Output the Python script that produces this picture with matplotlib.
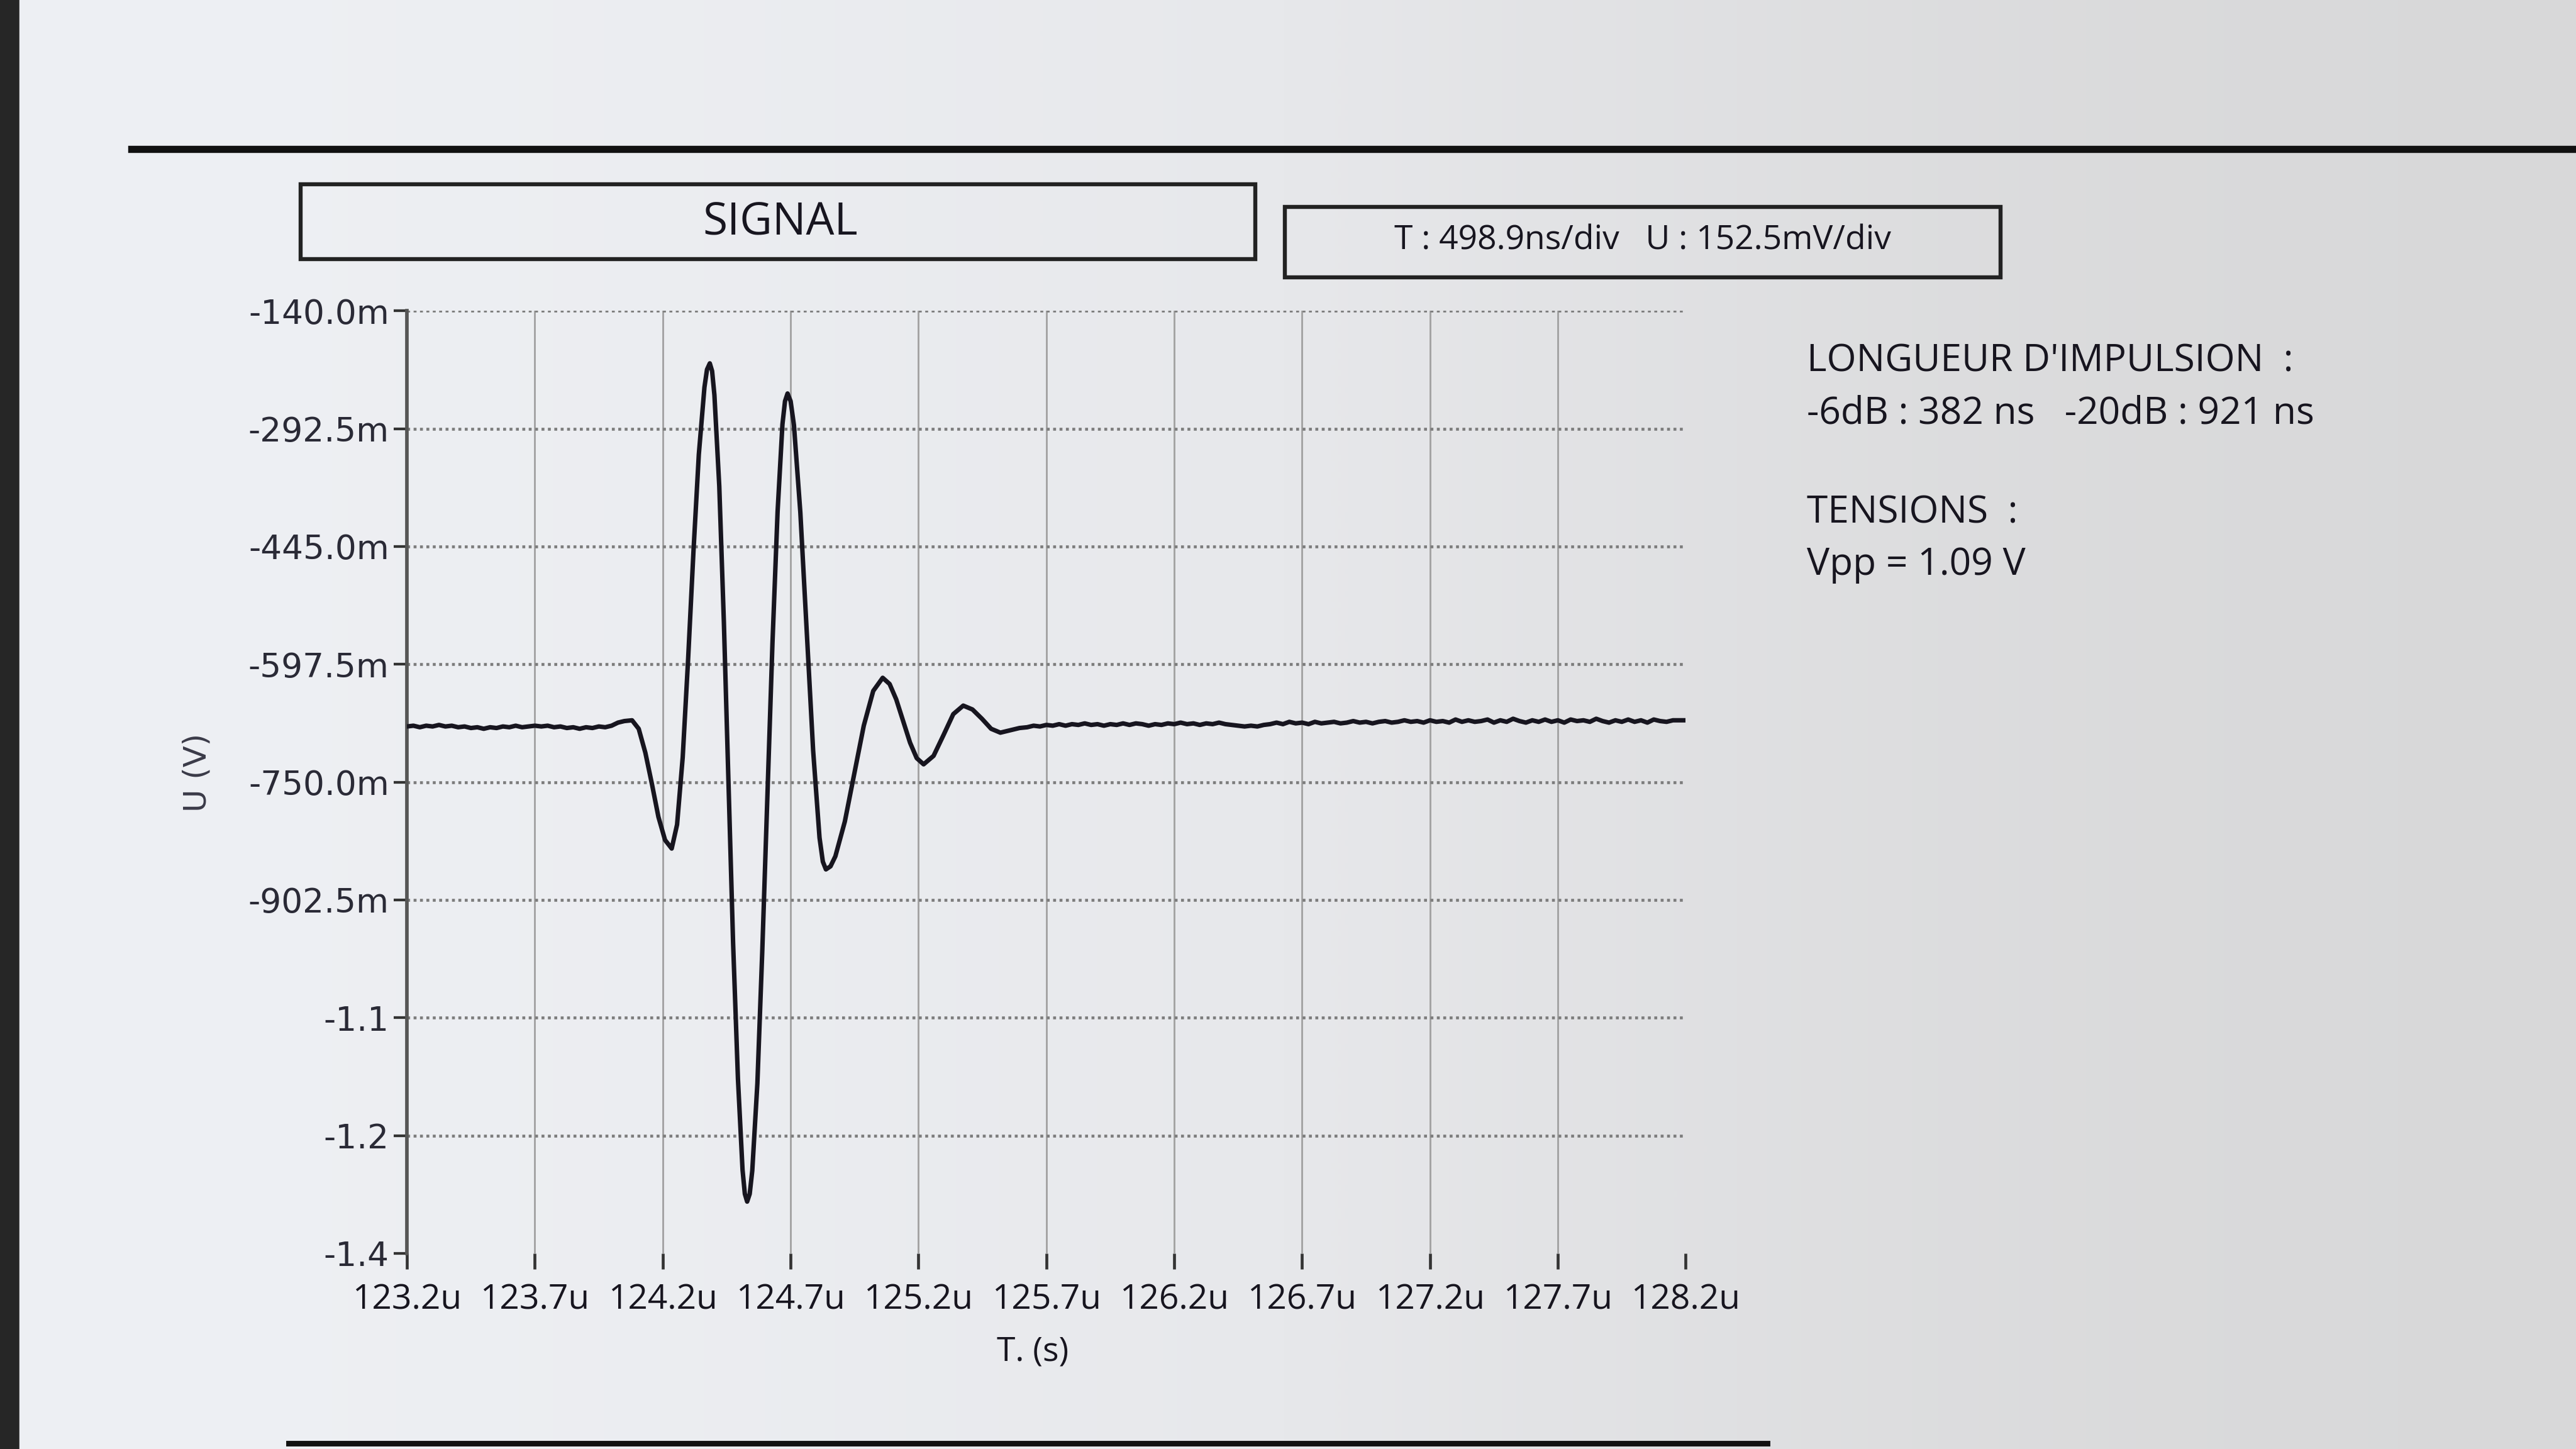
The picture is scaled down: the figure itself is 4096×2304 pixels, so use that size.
import matplotlib
matplotlib.use("Agg")
import matplotlib.pyplot as plt
from matplotlib.patches import Rectangle
from matplotlib.lines import Line2D
from matplotlib.colors import LinearSegmentedColormap
import numpy as np

plt.rcParams['font.family'] = ['Open Sans', 'DejaVu Sans']

# time in microseconds, voltage in mV
# baseline before the pulse
t_pre = [123.2, 123.225, 123.25, 123.275, 123.3, 123.325, 123.35, 123.375,
         123.4, 123.425, 123.45, 123.475, 123.5, 123.525, 123.55, 123.575,
         123.6, 123.625, 123.65, 123.675, 123.7, 123.725, 123.75, 123.775,
         123.8, 123.825, 123.85, 123.875, 123.9, 123.925, 123.95, 123.975,
         124.0, 124.025, 124.05]
u_pre = [-678, -677, -679, -677, -678, -676, -678, -677,
         -679, -678, -680, -679, -681, -679, -680, -678,
         -679, -677, -679, -678, -677, -678, -677, -679,
         -678, -680, -679, -681, -679, -680, -678, -679,
         -677, -673, -671]

# the pulse itself
t_pulse = [124.08, 124.106, 124.132, 124.158, 124.183, 124.209,
           124.235, 124.256, 124.278, 124.299, 124.32, 124.341, 124.363, 124.373,
           124.384, 124.393, 124.402, 124.421, 124.439, 124.457, 124.475, 124.494, 124.512, 124.521,
           124.53, 124.54, 124.55, 124.57, 124.589, 124.609, 124.629, 124.649, 124.668, 124.678,
           124.688, 124.7, 124.713, 124.738, 124.763, 124.788, 124.813, 124.826,
           124.838, 124.856, 124.875, 124.912, 124.949, 124.986, 125.023,
           125.06, 125.087, 125.113, 125.14, 125.167, 125.193,
           125.22, 125.259, 125.298, 125.336,
           125.375, 125.411, 125.448, 125.484,
           125.52, 125.545, 125.57, 125.595]
u_pulse = [-670, -681, -712, -753, -795, -825,
           -836, -805, -718, -592, -452, -326, -239, -216,
           -208, -218, -249, -367, -543, -751, -958, -1134, -1252, -1283,
           -1293, -1283, -1253, -1140, -970, -770, -570, -400, -287, -257,
           -247, -257, -288, -401, -555, -709, -822, -853,
           -863, -859, -846, -801, -739, -677, -632,
           -615, -623, -643, -671, -699, -719,
           -727, -716, -689, -662,
           -651, -656, -668, -681,
           -686, -684, -682, -680]

# baseline after the pulse
t_post = [125.625, 125.65, 125.675, 125.7, 125.725, 125.75, 125.775, 125.8,
          125.825, 125.85, 125.875, 125.9, 125.925, 125.95, 125.975, 126.0,
          126.025, 126.05, 126.075, 126.1, 126.125, 126.15, 126.175, 126.2,
          126.225, 126.25, 126.275, 126.3, 126.325, 126.35, 126.375, 126.4,
          126.425, 126.45, 126.475, 126.5, 126.525, 126.55, 126.575, 126.6,
          126.625, 126.65, 126.675, 126.7, 126.725, 126.75, 126.775, 126.8,
          126.825, 126.85, 126.875, 126.9, 126.925, 126.95, 126.975, 127.0,
          127.025, 127.05, 127.075, 127.1, 127.125, 127.15, 127.175, 127.2,
          127.225, 127.25, 127.275, 127.3, 127.325, 127.35, 127.375, 127.4,
          127.425, 127.45, 127.475, 127.5, 127.525, 127.55, 127.575, 127.6,
          127.625, 127.65, 127.675, 127.7, 127.725, 127.75, 127.775, 127.8,
          127.825, 127.85, 127.875, 127.9, 127.925, 127.95, 127.975, 128.0,
          128.025, 128.05, 128.075, 128.1, 128.125, 128.15, 128.175, 128.2]
u_post = [-679, -677, -678, -676, -677, -675, -677, -675,
          -676, -674, -676, -675, -677, -675, -676, -674,
          -676, -674, -675, -677, -675, -676, -674, -675,
          -673, -675, -674, -676, -674, -675, -673, -675,
          -676, -677, -678, -677, -678, -676, -675, -673,
          -675, -672, -674, -673, -675, -672, -674, -673,
          -672, -674, -673, -671, -673, -672, -674, -672,
          -671, -673, -672, -670, -672, -671, -673, -670,
          -672, -671, -673, -669, -672, -670, -672, -671,
          -669, -673, -670, -672, -668, -671, -673, -670,
          -672, -669, -672, -670, -673, -669, -671, -670,
          -672, -668, -671, -673, -670, -672, -669, -672,
          -670, -673, -669, -671, -672, -670, -670, -670]

x_ticks = [123.2, 123.7, 124.2, 124.7, 125.2, 125.7, 126.2, 126.7, 127.2, 127.7, 128.2]
x_tick_labels = ["123.2u", "123.7u", "124.2u", "124.7u", "125.2u", "125.7u",
                 "126.2u", "126.7u", "127.2u", "127.7u", "128.2u"]
y_ticks = [-140.0, -292.5, -445.0, -597.5, -750.0, -902.5, -1055.0, -1207.5, -1360.0]
y_tick_labels = ["-140.0m", "-292.5m", "-445.0m", "-597.5m", "-750.0m",
                 "-902.5m", "-1.1", "-1.2", "-1.4"]

title_text = "SIGNAL"
scale_text = "T : 498.9ns/div   U : 152.5mV/div"
info_text = ["LONGUEUR D'IMPULSION  :", "-6dB : 382 ns   -20dB : 921 ns",
             "TENSIONS  :", "Vpp = 1.09 V"]

ink = "#17151f"

fig = plt.figure(figsize=(16, 9), dpi=256)

# paper background, a bit darker towards the right like the photo
bg = fig.add_axes([0, 0, 1, 1], zorder=-10)
paper = LinearSegmentedColormap.from_list("paper", ["#eef0f4", "#e7e8eb", "#d8d8d9"])
bg.imshow([[0.0, 0.5, 1.0]], cmap=paper, aspect="auto", extent=[0, 1, 0, 1],
          interpolation="bicubic")
bg.set_xlim(0, 1)
bg.set_ylim(0, 1)
bg.axis("off")

# binder edge on the far left
fig.patches.append(Rectangle((0, 0), 0.007, 1, transform=fig.transFigure,
                             color="#262626", zorder=1))

# header rule and boxes
fig.lines.append(Line2D([0.051, 1.0], [0.897, 0.897], transform=fig.transFigure,
                        color="#111111", lw=3.2))
fig.lines.append(Line2D([0.112, 0.686], [0.004, 0.004], transform=fig.transFigure,
                        color="#111111", lw=2.5))
fig.patches.append(Rectangle((0.1167, 0.821), 0.3706, 0.052, transform=fig.transFigure,
                             fill=False, ec="#222222", lw=1.8))
fig.patches.append(Rectangle((0.4988, 0.8086), 0.2778, 0.0486, transform=fig.transFigure,
                             fill=False, ec="#222222", lw=1.8))
fig.text(0.303, 0.846, title_text, ha="center", va="center", fontsize=20, color=ink)
fig.text(0.6377, 0.834, scale_text, ha="center", va="center", fontsize=15, color=ink)

# measurement block on the right
info_y = [0.7508, 0.7148, 0.6462, 0.6101]
for txt, yy in zip(info_text, info_y):
    fig.text(0.7015, yy, txt, ha="left", va="center", fontsize=17, color=ink)

# the scope plot
ax = fig.add_axes([0.158, 0.135, 0.4964, 0.6505])
ax.set_facecolor("none")
t_all = np.concatenate([t_pre, t_pulse, t_post])
u_all = np.concatenate([u_pre, u_pulse, u_post])
ax.plot(t_all, u_all, color=ink, lw=2.0, solid_joinstyle="round", zorder=3)

ax.set_xlim(123.2, 128.2)
ax.set_ylim(-1360, -140)
ax.set_xticks(x_ticks)
ax.set_xticklabels(x_tick_labels, fontsize=15.5, color=ink)
ax.set_yticks(y_ticks)
ax.set_yticklabels(y_tick_labels, fontsize=15, color="#2a2a36", family="DejaVu Sans")
ax.tick_params(axis="x", direction="out", length=7, width=1.3, color="#333333", pad=6)
ax.tick_params(axis="y", direction="out", length=6, width=1.2, color="#333333", pad=2)

ax.grid(axis="y", linestyle=(0, (1, 1.2)), color="#7c7c7c", lw=1.3)
ax.grid(axis="x", linestyle="-", color="#a2a2a2", lw=0.8)
for line, val in zip(ax.get_ygridlines(), y_ticks):
    if val == min(y_ticks):
        line.set_visible(False)
for line, val in zip(ax.get_xgridlines(), x_ticks):
    if val in (min(x_ticks), max(x_ticks)):
        line.set_visible(False)

for side in ["top", "right", "bottom"]:
    ax.spines[side].set_visible(False)
ax.spines["left"].set_color("#555555")
ax.spines["left"].set_linewidth(1.6)

fig.text(0.0765, 0.467, "U (V)", rotation=90, ha="center", va="center",
         fontsize=14, color="#3a3a48", family="DejaVu Sans")
fig.text(0.401, 0.067, "T. (s)", ha="center", va="center", fontsize=15, color=ink)

fig.savefig("out.png", dpi=256)
